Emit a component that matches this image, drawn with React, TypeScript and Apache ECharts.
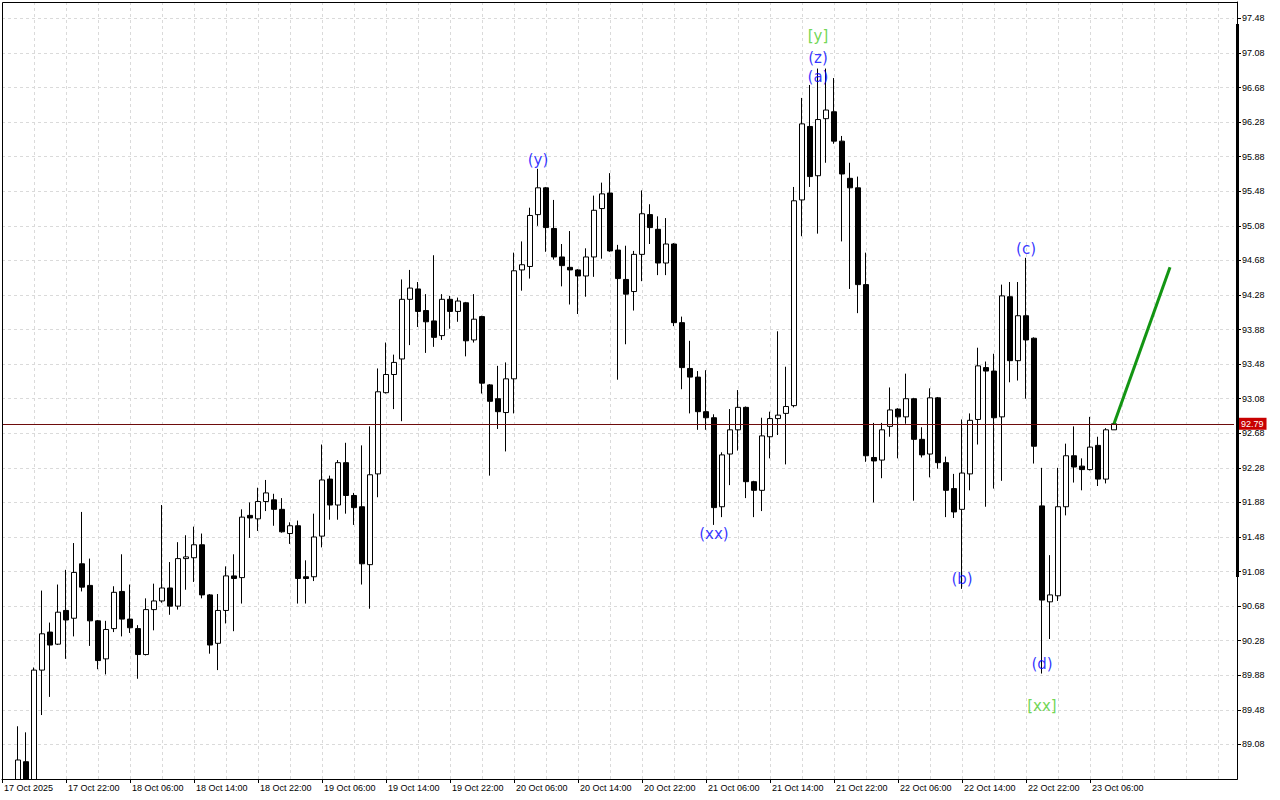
import React, { useEffect, useRef } from 'react';
import * as echarts from 'echarts';

// ---- time axis (hourly bars starting 17 Oct 2025 14:00) ----
const startDay = 17;
const startHour = 14;
const slotCount = 155;
const categories: string[] = [];
for (let k = 0; k < slotCount; k++) {
  const t = startHour + k;
  const day = startDay + Math.floor(t / 24);
  const hr = t % 24;
  categories.push(k === 0 ? '17 Oct 2025' : `${day} Oct ${String(hr).padStart(2, '0')}:00`);
}

// first bar with data (bars 0 and 1 lie outside the visible window)
const firstIndex = 2;

const openVals = [
  88.55, 88.88, 88.50, 89.94, 90.38, 90.24, 90.63, 90.54, 91.17, 90.92,
  90.51, 90.07, 90.42, 90.85, 90.53, 90.42, 90.12, 90.64, 90.74, 90.89,
  90.68, 91.23, 91.24, 91.39, 90.81, 90.25, 90.63, 91.03, 91.01, 91.73,
  91.69, 91.89, 91.91, 91.80, 91.52, 91.61, 91.02, 91.02, 91.49, 92.15,
  91.85, 92.34, 91.96, 91.83, 91.16, 92.21, 93.15, 93.36, 93.54, 94.23,
  94.35, 94.10, 93.98, 93.81, 94.23, 94.09, 94.19, 93.76, 94.03, 93.24,
  93.08, 92.92, 93.31, 94.57, 94.61, 95.21, 95.52, 95.05, 94.72, 94.60,
  94.57, 94.50, 94.72, 95.28, 95.46, 94.80, 94.46, 94.32, 94.75, 95.21,
  95.04, 94.65, 94.87, 93.96, 93.43, 93.33, 92.93, 92.86, 91.83, 92.44,
  92.72, 92.98, 92.12, 92.02, 92.64, 92.85, 92.91, 93.00, 95.38, 96.23,
  95.66, 96.32, 96.40, 96.06, 95.63, 95.52, 94.40, 92.40, 92.37, 92.76,
  92.96, 92.87, 93.08, 92.61, 92.44, 93.09, 92.34, 92.04, 91.80, 92.21,
  92.84, 93.44, 93.40, 92.87, 94.26, 93.52, 94.04, 93.78, 91.84, 90.73,
  90.80, 91.83, 92.42, 92.30, 92.26, 92.54, 92.15, 92.72,
];
const closeVals = [
  88.90, 88.50, 89.94, 90.36, 90.23, 90.61, 90.52, 91.07, 90.90, 90.51,
  90.05, 90.41, 90.84, 90.53, 90.43, 90.12, 90.64, 90.74, 90.89, 90.68,
  91.23, 91.25, 91.39, 90.81, 90.23, 90.63, 91.03, 91.00, 91.71, 91.70,
  91.89, 91.99, 91.80, 91.54, 91.61, 91.00, 91.00, 91.48, 92.14, 91.85,
  92.34, 91.96, 91.82, 91.17, 92.20, 93.16, 93.36, 93.50, 94.23, 94.36,
  94.09, 93.97, 93.79, 94.23, 94.09, 94.21, 93.75, 94.00, 93.26, 93.05,
  92.93, 93.31, 94.56, 94.63, 95.20, 95.52, 95.06, 94.72, 94.62, 94.57,
  94.50, 94.72, 95.26, 95.45, 94.79, 94.47, 94.29, 94.75, 95.22, 95.06,
  94.65, 94.87, 93.96, 93.44, 93.33, 92.93, 92.86, 91.82, 92.43, 92.72,
  92.98, 92.12, 92.02, 92.65, 92.85, 92.89, 92.99, 95.37, 96.26, 95.65,
  96.31, 96.42, 96.06, 95.68, 95.52, 94.40, 92.42, 92.36, 92.72, 92.95,
  92.87, 93.08, 92.61, 92.43, 93.09, 92.34, 92.02, 91.77, 92.22, 92.83,
  93.46, 93.40, 92.86, 94.27, 93.52, 94.04, 93.76, 92.53, 90.75, 90.81,
  91.83, 92.42, 92.29, 92.26, 92.52, 92.15, 92.72, 92.79,
];
const lowVals = [
  88.45, 88.40, 88.45, 89.42, 89.63, 90.23, 90.07, 90.33, 90.85, 90.22,
  89.95, 89.89, 90.38, 90.33, 90.37, 89.84, 90.11, 90.40, 90.72, 90.58,
  90.64, 90.87, 90.96, 90.77, 90.13, 89.94, 90.48, 90.39, 90.71, 91.47,
  91.55, 91.78, 91.61, 91.53, 91.40, 90.71, 90.71, 90.97, 91.36, 91.68,
  91.68, 91.75, 91.62, 90.93, 90.65, 91.94, 93.14, 92.96, 92.82, 93.70,
  93.91, 93.61, 93.68, 93.76, 93.89, 93.97, 93.57, 93.73, 93.14, 92.19,
  92.73, 92.47, 92.91, 94.33, 94.47, 95.08, 94.78, 94.69, 94.38, 94.17,
  94.06, 94.26, 94.49, 94.70, 94.78, 93.30, 93.71, 94.10, 94.44, 94.87,
  94.51, 94.51, 93.92, 93.19, 92.91, 92.72, 92.72, 91.62, 91.71, 92.08,
  92.48, 91.93, 91.71, 91.78, 92.39, 92.66, 92.32, 92.98, 94.96, 95.53,
  94.99, 95.81, 96.03, 94.90, 94.35, 94.07, 92.35, 91.88, 92.16, 92.64,
  92.39, 92.79, 91.90, 92.40, 92.17, 92.27, 91.71, 91.70, 90.88, 92.02,
  92.55, 91.83, 92.04, 92.13, 93.27, 93.29, 93.08, 92.33, 89.90, 90.30,
  90.74, 91.73, 92.11, 92.02, 92.25, 92.07, 92.10, 92.72,
];
const highVals = [
  89.29, 89.22, 89.97, 90.86, 90.49, 90.93, 91.10, 91.41, 91.77, 91.23,
  90.52, 90.51, 90.91, 91.28, 90.93, 90.46, 90.77, 90.94, 91.85, 91.19,
  91.42, 91.50, 91.60, 91.52, 90.82, 90.82, 91.14, 91.28, 91.80, 91.88,
  92.05, 92.14, 91.98, 91.93, 91.65, 91.67, 91.21, 91.75, 92.55, 92.19,
  92.37, 92.57, 91.99, 92.54, 92.76, 93.43, 93.73, 93.59, 94.46, 94.57,
  94.43, 94.29, 94.74, 94.29, 94.27, 94.25, 94.20, 94.29, 94.04, 93.25,
  93.46, 93.50, 94.77, 94.90, 95.29, 95.74, 95.53, 95.38, 94.87, 95.02,
  94.58, 94.82, 95.43, 95.58, 95.69, 94.86, 94.85, 94.79, 95.49, 95.33,
  95.19, 95.17, 94.88, 94.03, 93.75, 93.40, 93.41, 92.90, 92.46, 92.96,
  93.18, 92.99, 92.13, 92.86, 92.93, 93.86, 93.45, 95.53, 96.56, 96.71,
  96.90, 96.90, 96.79, 96.12, 95.81, 95.65, 94.77, 92.80, 92.80, 93.21,
  92.97, 93.37, 93.09, 92.75, 93.20, 93.10, 92.41, 92.21, 92.84, 92.91,
  93.67, 93.51, 93.60, 94.40, 94.43, 94.43, 94.71, 93.79, 92.28, 91.27,
  92.28, 92.56, 92.76, 92.39, 92.87, 92.64, 92.74, 92.80,
];

// forecast line: [bar index, price]
const forecastLine: [number, number][] = [
  [139, 92.79],
  [146, 94.60],
];

// wave labels: [text, bar index, price, colour group]
const waveLabels: [string, number, number, 'blue' | 'green'][] = [
  ['(y)', 67, 95.84, 'blue'],
  ['[y]', 102, 97.28, 'green'],
  ['(z)', 102, 97.02, 'blue'],
  ['(a)', 102, 96.80, 'blue'],
  ['(xx)', 89, 91.51, 'blue'],
  ['(b)', 120, 90.99, 'blue'],
  ['(c)', 128, 94.81, 'blue'],
  ['(d)', 130, 90.01, 'blue'],
  ['[xx]', 130, 89.52, 'green'],
];

const yMin = 88.68;
const yMax = 97.67;
const yStep = 0.4;

const lastPrice = closeVals[closeVals.length - 1];
const lastBar = firstIndex + closeVals.length - 1;

export default function App() {
  const ref = useRef<HTMLDivElement>(null);

  useEffect(() => {
    if (!ref.current) return;
    const chart = echarts.init(ref.current, undefined, { renderer: 'svg' });

    const candleData = categories.map((_, k) => {
      const i = k - firstIndex;
      if (i < 0 || i >= openVals.length) return ['-', '-', '-', '-'];
      return [openVals[i], closeVals[i], lowVals[i], highVals[i]];
    });

    const axisFont = 'Liberation Sans, Arial, sans-serif';
    const timeLabelAt = (idx: number) => idx % 8 === 0 && idx <= lastBar;
    const every4 = (idx: number) => idx % 4 === 0;

    chart.setOption({
      animation: false,
      backgroundColor: '#ffffff',
      grid: { left: 2, right: 46, top: 2, bottom: 21, containLabel: false },
      xAxis: [
        {
          // grid lines only (behind the candles)
          type: 'category',
          data: categories,
          boundaryGap: false,
          position: 'top',
          z: 0,
          axisLine: { show: false },
          axisTick: { show: false },
          axisLabel: { show: false },
          splitLine: {
            show: true,
            interval: every4,
            lineStyle: { color: '#dadada', type: [3, 3], width: 1 },
          },
        },
        {
          // time labels (drawn above the bottom mask)
          type: 'category',
          data: categories,
          boundaryGap: false,
          position: 'bottom',
          z: 20,
          axisLine: { show: true, lineStyle: { color: '#000', width: 1 } },
          axisTick: { show: true, interval: timeLabelAt, length: 4, lineStyle: { color: '#000' } },
          axisLabel: {
            interval: timeLabelAt,
            align: 'left',
            fontSize: 9,
            color: '#000',
            margin: 4,
            fontFamily: axisFont,
            padding: [0, 0, 0, 2],
          },
          splitLine: { show: false },
        },
      ],
      yAxis: {
        type: 'value',
        position: 'right',
        offset: 3,
        min: yMin,
        max: yMax,
        interval: yStep,
        axisLine: { show: true, lineStyle: { color: '#000', width: 1 } },
        axisTick: { show: true, length: 4, lineStyle: { color: '#000' } },
        axisLabel: {
          formatter: (v: number) => v.toFixed(2),
          showMinLabel: false,
          showMaxLabel: false,
          fontSize: 9,
          color: '#000',
          margin: 5,
          fontFamily: axisFont,
        },
        splitLine: {
          show: true,
          lineStyle: { color: '#dadada', type: [3, 3], width: 1 },
        },
      },
      series: [
        {
          type: 'candlestick',
          xAxisIndex: 0,
          data: candleData,
          barWidth: 5,
          clip: true,
          itemStyle: {
            color: '#ffffff',
            color0: '#000000',
            borderColor: '#000000',
            borderColor0: '#000000',
            borderWidth: 1,
          },
          markLine: {
            silent: true,
            symbol: ['none', 'none'],
            data: [{ yAxis: lastPrice }],
            lineStyle: { color: '#6e0c0c', width: 1, type: 'solid' },
            label: {
              show: true,
              position: 'end',
              formatter: lastPrice.toFixed(2),
              backgroundColor: '#c80000',
              color: '#ffffff',
              fontSize: 9,
              fontFamily: axisFont,
              padding: [2, 3, 1, 3],
              distance: 4,
            },
          },
        },
        {
          type: 'line',
          xAxisIndex: 0,
          data: forecastLine,
          showSymbol: false,
          symbol: 'none',
          lineStyle: { color: '#139513', width: 3 },
          z: 5,
        },
        {
          type: 'scatter',
          xAxisIndex: 0,
          data: waveLabels.map(([text, idx, price, group]) => ({
            name: text,
            value: [idx, price],
            label: { color: group === 'blue' ? '#0000ff' : '#4ccc2a' },
          })),
          symbolSize: 0,
          itemStyle: { color: 'rgba(0,0,0,0)' },
          label: {
            show: true,
            position: 'inside',
            formatter: (p: any) => p.name,
            fontSize: 15,
            fontFamily: 'DejaVu Sans, sans-serif',
          },
          z: 6,
        },
      ],
      graphic: [
        {
          type: 'rect',
          x: 0,
          y: 780,
          shape: { width: 1280, height: 20 },
          style: { fill: '#ffffff' },
          silent: true,
          z: 10,
        },
        {
          type: 'rect',
          x: 2.5,
          y: 2.5,
          shape: { width: 1235, height: 777 },
          style: { fill: 'none', stroke: '#000', lineWidth: 1 },
          silent: true,
          z: 100,
        },
      ],
    });

    return () => chart.dispose();
  }, []);

  return (
    <div style={{ position: 'absolute', left: 0, top: 0, width: 1280, height: 800, background: '#fff' }}>
      <div ref={ref} style={{ position: 'absolute', left: 0, top: 0, width: 1280, height: 800 }} />
      <div
        style={{
          position: 'absolute',
          left: 1236,
          top: 24,
          width: 3,
          height: 553,
          background: '#000',
          pointerEvents: 'none',
        }}
      />
    </div>
  );
}
